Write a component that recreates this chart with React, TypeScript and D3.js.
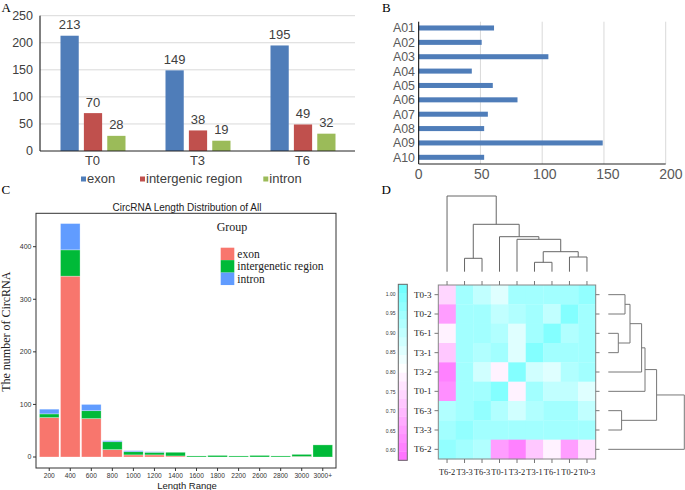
import React from "react";
import * as d3 from "d3";

const SANS = "'Liberation Sans', Arial, sans-serif";
const SERIF = "'Liberation Serif', 'Times New Roman', serif";

// ---------- Panel A data ----------
const catsA = ["T0", "T3", "T6"];
const seriesA = ["exon", "intergenic region", "intron"];
const exonA = [213, 149, 195];
const interA = [70, 38, 49];
const intronA = [28, 19, 32];
const ticksA = [0, 50, 100, 150, 200, 250];
const colorsA = ["#4f7db9", "#c0504d", "#9bbb59"];

// ---------- Panel B data ----------
const chromB = ["A01", "A02", "A03", "A04", "A05", "A06", "A07", "A08", "A09", "A10"];
const valuesB = [61, 51, 105, 43, 60, 80, 56, 53, 149, 53];
const ticksB = [0, 50, 100, 150, 200];

// ---------- Panel C data ----------
const rangesC = ["200", "400", "600", "800", "1000", "1200", "1400", "1600", "1800", "2200", "2600", "2800", "3000", "3000+"];
const exonC = [75, 344, 73, 14, 4, 4, 2, 0, 0, 0, 0, 0, 1, 0];
const interC = [7, 50, 15, 15, 6, 5, 7, 2, 3, 2, 3, 2, 4, 23];
const intronC = [9, 50, 12, 2, 2, 1, 0, 0, 0, 0, 0, 0, 0, 0];
const groupsC = ["exon", "intergenetic region", "intron"];
const colorsC = ["#f8766d", "#00ba38", "#619cff"];
const ticksC = [0, 100, 200, 300, 400];

// ---------- Panel D data ----------
const colOrder = ["T6-2", "T3-3", "T6-3", "T0-1", "T3-2", "T3-1", "T6-1", "T0-2", "T0-3"];
const rowOrder = ["T0-3", "T0-2", "T6-1", "T3-1", "T3-2", "T0-1", "T6-3", "T3-3", "T6-2"];
const corrRows = [
  [0.75, 0.95, 0.90, 0.85, 0.95, 0.94, 0.94, 0.94, 0.97],
  [0.66, 0.95, 0.95, 0.91, 0.92, 0.94, 0.91, 0.98, 0.94],
  [0.78, 0.95, 0.95, 0.92, 0.85, 0.94, 0.98, 0.92, 0.94],
  [0.72, 0.95, 0.93, 0.95, 0.86, 0.98, 0.94, 0.94, 0.94],
  [0.60, 0.94, 0.87, 0.79, 0.98, 0.87, 0.85, 0.92, 0.95],
  [0.62, 0.94, 0.94, 0.98, 0.78, 0.95, 0.91, 0.89, 0.85],
  [0.93, 0.95, 0.97, 0.93, 0.87, 0.93, 0.95, 0.95, 0.90],
  [0.94, 0.97, 0.95, 0.94, 0.94, 0.95, 0.95, 0.95, 0.95],
  [0.96, 0.94, 0.92, 0.65, 0.60, 0.72, 0.79, 0.66, 0.76],
];
const colorbarTicks = [1.0, 0.95, 0.9, 0.85, 0.8, 0.75, 0.7, 0.65, 0.6];
// hclust-like merges: [a, b, height]; numbers refer to earlier merges
const colMerges: [string | number, string | number, number][] = [
  ["T3-1", "T6-1", 0.094],
  ["T0-2", "T0-3", 0.147],
  [0, 1, 0.2],
  ["T3-2", 2, 0.324],
  ["T0-1", 3, 0.35],
  ["T3-3", "T6-3", 0.134],
  [5, 4, 0.474],
  ["T6-2", 6, 0.757],
];
const rowMerges: [string | number, string | number, number][] = [
  ["T0-3", "T0-2", 0.167],
  ["T6-1", "T3-1", 0.1],
  [0, 1, 0.217],
  [2, "T3-2", 0.333],
  [3, "T0-1", 0.367],
  ["T6-3", "T3-3", 0.133],
  [4, 5, 0.483],
  [6, "T6-2", 0.76],
];

function dendroPaths(
  merges: [string | number, string | number, number][],
  leafPos: (n: string) => number,
  hScale: (h: number) => number,
  vertical: boolean
): string[] {
  const nodes: { p: number; h: number }[] = [];
  const get = (k: string | number) => (typeof k === "number" ? nodes[k] : { p: leafPos(k), h: 0 });
  const paths: string[] = [];
  merges.forEach(([a, b, h]) => {
    const A = get(a);
    const B = get(b);
    const nh = hScale(h);
    if (vertical) {
      paths.push(`M${A.p},${hScale(A.h)}V${nh}H${B.p}V${hScale(B.h)}`);
    } else {
      paths.push(`M${hScale(A.h)},${A.p}H${nh}V${B.p}H${hScale(B.h)}`);
    }
    nodes.push({ p: (A.p + B.p) / 2, h });
  });
  return paths;
}

export default function App() {
  // ----- Panel A -----
  const xA = d3.scaleBand<string>().domain(catsA).range([40, 355]);
  const xAin = d3.scaleBand<string>().domain(seriesA).range([20.5, 85.5]).paddingInner(0.22);
  const yA = d3.scaleLinear().domain([0, 250]).range([151, 15.7]);
  const valsA = [exonA, interA, intronA];

  // ----- Panel B -----
  const xB = d3.scaleLinear().domain([0, 200]).range([418.7, 665.7]);
  const yB = d3.scaleBand<string>().domain(chromB).range([20.8, 164.5]).paddingInner(0.65).paddingOuter(0.325);

  // ----- Panel C -----
  const xC = d3.scaleBand<string>().domain(rangesC).range([36, 336]).paddingInner(0.07).paddingOuter(0.164);
  const yC = d3.scaleLinear().domain([0, 400]).range([457, 246.7]);
  const stackData = rangesC.map((r, i) => ({ r, exon: exonC[i], inter: interC[i], intron: intronC[i] }));
  const stack = d3.stack<any>().keys(["exon", "inter", "intron"])(stackData);

  // ----- Panel D -----
  const xD = d3.scaleBand<string>().domain(colOrder).range([438.3, 595.7]);
  const yD = d3.scaleBand<string>().domain(rowOrder).range([285, 459]);
  const cbLo = 0.575, cbHi = 1.025, nBands = 20;
  const cbY = d3.scaleLinear().domain([cbLo, cbHi]).range([460.3, 284.3]);
  const colorLin = d3.scaleLinear<string>().domain([cbLo, 0.81, cbHi]).range(["#ff6cff", "#ffffff", "#6cffff"]).clamp(true);
  const bandW = (cbHi - cbLo) / nBands;
  const quant = (v: number) => {
    let i = Math.floor((v - cbLo) / bandW);
    i = Math.max(0, Math.min(nBands - 1, i));
    return colorLin(cbLo + (i + 0.5) * bandW);
  };
  const topH = d3.scaleLinear().domain([0, 0.757]).range([271.7, 196]);
  const rightH = d3.scaleLinear().domain([0, 0.76]).range([608.3, 684.3]);
  const colPaths = dendroPaths(colMerges, (n) => xD(n)! + xD.bandwidth() / 2, topH, true);
  const rowPaths = dendroPaths(rowMerges, (n) => yD(n)! + yD.bandwidth() / 2, rightH, false);

  return (
    <div style={{ position: "absolute", left: 0, top: 0 }}>
      <svg width={685} height={490} style={{ display: "block", background: "#fff" }}>
        {/* ================= Panel A ================= */}
        <text x={1.5} y={12} fontFamily={SERIF} fontSize={13} fill="#000">A</text>
        {ticksA.slice(1).map((t) => (
          <line key={t} x1={40} x2={355} y1={yA(t)} y2={yA(t)} stroke="#d9d9d9" strokeWidth={1} />
        ))}
        {ticksA.map((t) => (
          <text key={t} x={33} y={yA(t)} dy="0.35em" textAnchor="end" fontFamily={SANS} fontSize={12.5} fill="#404040">{t}</text>
        ))}
        {catsA.map((c, ci) =>
          seriesA.map((s, si) => {
            const v = valsA[si][ci];
            const x = xA(c)! + xAin(s)!;
            return (
              <g key={c + s}>
                <rect x={x} y={yA(v)} width={xAin.bandwidth()} height={yA(0) - yA(v)} fill={colorsA[si]} />
                <text x={x + xAin.bandwidth() / 2} y={yA(v) - 6.5} textAnchor="middle" fontFamily={SANS} fontSize={13} fill="#404040">{v}</text>
              </g>
            );
          })
        )}
        <line x1={40} x2={40} y1={15.7} y2={151} stroke="#000" strokeWidth={1} />
        <line x1={40} x2={355} y1={151} y2={151} stroke="#222" strokeWidth={1} />
        {catsA.map((c) => (
          <text key={c} x={xA(c)! + xA.bandwidth() / 2} y={165} textAnchor="middle" fontFamily={SANS} fontSize={13} fill="#404040">{c}</text>
        ))}
        {seriesA.map((s, i) => {
          const lx = [81, 140, 263.3][i];
          return (
            <g key={s}>
              <rect x={lx} y={176.5} width={5} height={5} fill={colorsA[i]} />
              <text x={lx + 6} y={182.5} fontFamily={SANS} fontSize={13} fill="#404040">{s}</text>
            </g>
          );
        })}

        {/* ================= Panel B ================= */}
        <text x={382} y={12} fontFamily={SERIF} fontSize={13} fill="#000">B</text>
        {ticksB.slice(1).map((t) => (
          <line key={t} x1={xB(t)} x2={xB(t)} y1={21.7} y2={164} stroke="#d9d9d9" strokeWidth={1} />
        ))}
        {chromB.map((c, i) => (
          <g key={c}>
            <rect x={xB(0)} y={yB(c)!} width={xB(valuesB[i]) - xB(0)} height={yB.bandwidth()} fill="#4f7db9" />
            <text x={415} y={yB(c)! + yB.bandwidth() / 2} dy="0.36em" textAnchor="end" fontFamily={SANS} fontSize={12.4} fill="#595959">{c}</text>
          </g>
        ))}
        <line x1={418.7} x2={418.7} y1={21.7} y2={164} stroke="#000" strokeWidth={1} />
        <line x1={418.7} x2={665.7} y1={164} y2={164} stroke="#222" strokeWidth={1} />
        {ticksB.map((t, i) => (
          <text key={t} x={xB(t) + i * 1.3} y={178.5} textAnchor="middle" fontFamily={SANS} fontSize={14} fill="#595959">{t}</text>
        ))}

        {/* ================= Panel C ================= */}
        <text x={1.5} y={193.5} fontFamily={SERIF} fontSize={13} fill="#000">C</text>
        <text x={187} y={211} textAnchor="middle" fontFamily={SANS} fontSize={10} fill="#222">CircRNA Length Distribution of All</text>
        {stack.map((layer, li) => (
          <g key={li}>
            {layer.map((d: any, i: number) =>
              d[1] - d[0] > 0 ? (
                <rect key={i} x={xC(rangesC[i])!} y={yC(d[1])} width={xC.bandwidth()} height={yC(d[0]) - yC(d[1])}
                  fill={colorsC[li]} stroke="#ffffff" strokeOpacity={0.5} strokeWidth={0.6} />
              ) : null
            )}
          </g>
        ))}
        <rect x={36} y={213.3} width={300} height={254.7} fill="none" stroke="#333" strokeWidth={1} />
        {ticksC.map((t) => (
          <g key={t}>
            <line x1={33} x2={36} y1={yC(t)} y2={yC(t)} stroke="#333" />
            <text x={31.5} y={yC(t)} dy="0.35em" textAnchor="end" fontFamily={SANS} fontSize={7} fill="#333">{t}</text>
          </g>
        ))}
        {rangesC.map((r) => (
          <g key={r}>
            <line x1={xC(r)! + xC.bandwidth() / 2} x2={xC(r)! + xC.bandwidth() / 2} y1={468} y2={471} stroke="#333" />
            <text x={xC(r)! + xC.bandwidth() / 2} y={478} textAnchor="middle" fontFamily={SANS} fontSize={6.6} fill="#333">{r}</text>
          </g>
        ))}
        <text x={187} y={488.5} textAnchor="middle" fontFamily={SANS} fontSize={9.5} fill="#222">Length Range</text>
        <text transform="translate(10,331.7) rotate(-90)" textAnchor="middle" fontFamily={SERIF} fontSize={12} fill="#222">The number of CircRNA</text>
        <text x={216.7} y={230.5} fontFamily={SERIF} fontSize={12} fill="#222">Group</text>
        {groupsC.map((g, i) => (
          <g key={g}>
            <rect x={220.7} y={247.7 + i * 12.45} width={13.6} height={12.45} fill={colorsC[i]} />
            <text x={237.3} y={247.7 + i * 12.45 + 6.2} dy="0.35em" fontFamily={SERIF} fontSize={11.5} fill="#222">{g}</text>
          </g>
        ))}

        {/* ================= Panel D ================= */}
        <text x={381.5} y={194} fontFamily={SERIF} fontSize={13} fill="#000">D</text>
        {/* colorbar */}
        {d3.range(nBands).map((i) => {
          const v0 = cbLo + i * bandW;
          return (
            <rect key={i} x={398.3} y={cbY(v0 + bandW)} width={9} height={cbY(v0) - cbY(v0 + bandW) + 0.3}
              fill={colorLin(v0 + bandW / 2)} />
          );
        })}
        <rect x={398.3} y={284.3} width={9} height={176} fill="none" stroke="#666" strokeWidth={1} />
        {colorbarTicks.map((t) => (
          <text key={t} x={395.5} y={cbY(t)} dy="0.35em" textAnchor="end" fontFamily={SANS} fontSize={5} fill="#333">{t.toFixed(2)}</text>
        ))}
        {/* heatmap cells */}
        {rowOrder.map((r, ri) =>
          colOrder.map((c, ci) => (
            <rect key={r + c} x={xD(c)!} y={yD(r)!} width={xD.bandwidth() + 0.3} height={yD.bandwidth() + 0.3}
              fill={quant(corrRows[ri][ci])} />
          ))
        )}
        <rect x={438.3} y={285} width={157.4} height={174} fill="none" stroke="#888" strokeWidth={1} />
        {colOrder.map((c) => {
          const cx = xD(c)! + xD.bandwidth() / 2;
          return (
            <g key={c}>
              <line x1={cx} x2={cx} y1={281} y2={285} stroke="#777" />
              <line x1={cx} x2={cx} y1={459} y2={463} stroke="#777" />
              <text x={cx} y={475} textAnchor="middle" fontFamily={SERIF} fontSize={8.4} fill="#222">{c}</text>
            </g>
          );
        })}
        {rowOrder.map((r) => {
          const cy = yD(r)! + yD.bandwidth() / 2;
          return (
            <g key={r}>
              <line x1={434.5} x2={438.3} y1={cy} y2={cy} stroke="#777" />
              <line x1={595.7} x2={599.5} y1={cy} y2={cy} stroke="#777" />
              <text x={431.5} y={cy} dy="0.35em" textAnchor="end" fontFamily={SERIF} fontSize={9} fill="#222">{r}</text>
            </g>
          );
        })}
        {colPaths.map((p, i) => (
          <path key={i} d={p} fill="none" stroke="#666" strokeWidth={1} />
        ))}
        {rowPaths.map((p, i) => (
          <path key={i} d={p} fill="none" stroke="#777" strokeWidth={1} />
        ))}
      </svg>
    </div>
  );
}
